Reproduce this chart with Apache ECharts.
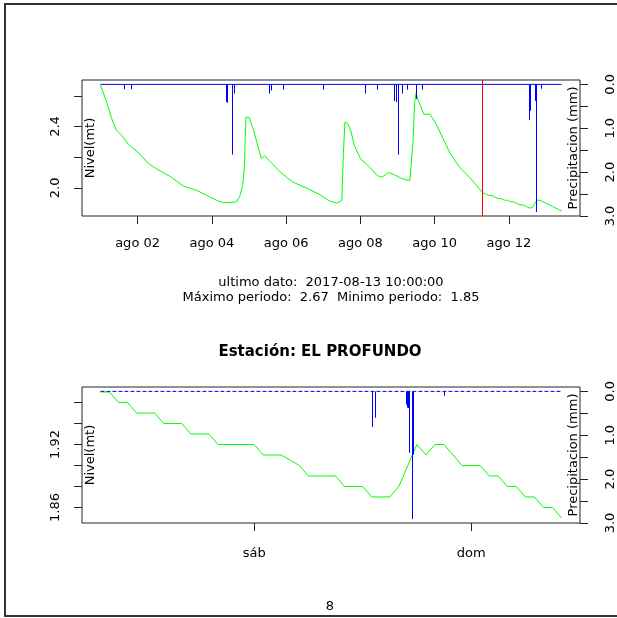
<!DOCTYPE html>
<html><head><meta charset="utf-8">
<script src="https://cdn.jsdelivr.net/npm/echarts@6/dist/echarts.min.js"></script>
<style>html,body{margin:0;padding:0;background:#fff}#c{width:617px;height:618px}</style>
</head><body><div id="c"></div>
<script>
// ---- data (August 2017, times as 'MM-DD HH:mm') ----
const levelTimes = [
  '08-01 00:00','08-01 04:00','08-01 07:00','08-01 10:00','08-01 14:00','08-01 18:00',
  '08-02 01:00','08-02 07:00','08-02 12:00','08-02 21:00','08-03 06:00','08-03 14:00',
  '08-03 21:00','08-04 03:00','08-04 07:00','08-04 13:00','08-04 16:00','08-04 18:00',
  '08-04 20:00','08-04 21:00','08-04 22:00','08-05 00:00','08-05 03:00','08-05 05:00',
  '08-05 08:00','08-05 10:00','08-05 13:00','08-05 20:00','08-06 04:00','08-06 13:00',
  '08-06 22:00','08-07 04:00','08-07 09:00','08-07 12:00','08-07 13:00','08-07 14:00',
  '08-07 16:00','08-07 18:00','08-07 20:00','08-08 00:00','08-08 06:00','08-08 11:00',
  '08-08 14:00','08-08 18:00','08-08 22:00','08-09 02:00','08-09 06:00','08-09 08:00',
  '08-09 10:00','08-09 11:00','08-09 12:00','08-09 13:00','08-09 17:00','08-09 21:00',
  '08-10 01:00','08-10 05:00','08-10 10:00','08-10 16:00','08-10 22:00',
  '08-11 07:00','08-11 08:00','08-11 09:00','08-11 10:00','08-11 11:00','08-11 12:00',
  '08-11 13:00','08-11 14:00','08-11 15:00','08-11 16:00','08-11 17:00','08-11 18:00',
  '08-11 19:00','08-11 20:00','08-11 21:00','08-11 22:00','08-11 23:00',
  '08-12 00:00','08-12 01:00','08-12 02:00','08-12 03:00','08-12 04:00','08-12 05:00',
  '08-12 06:00','08-12 07:00','08-12 08:00','08-12 09:00','08-12 10:00','08-12 11:00',
  '08-12 12:00','08-12 13:00','08-12 14:00','08-12 15:00','08-12 16:00','08-12 17:00',
  '08-12 18:00','08-12 19:00','08-12 20:00','08-12 21:00','08-12 22:00','08-12 23:00',
  '08-13 00:00','08-13 01:00','08-13 02:00','08-13 03:00','08-13 04:00','08-13 05:00',
  '08-13 06:00','08-13 07:00','08-13 08:00','08-13 09:00','08-13 10:00'
];
const levelValues = [
  2.67,2.56,2.46,2.38,2.34,2.285,
  2.225,2.16,2.125,2.075,2.01,1.985,
  1.95,1.92,1.905,1.905,1.91,1.945,
  2.02,2.14,2.46,2.46,2.375,2.30,
  2.19,2.21,2.18,2.105,2.04,2.00,
  1.955,1.915,1.90,1.92,2.22,2.43,
  2.415,2.365,2.28,2.19,2.135,2.08,
  2.07,2.10,2.085,2.065,2.05,2.05,
  2.30,2.55,2.62,2.58,2.48,2.48,
  2.415,2.33,2.225,2.135,2.075,
  1.97,1.97,1.96,1.96,1.95,1.95,
  1.95,1.94,1.94,1.94,1.93,1.93,
  1.93,1.92,1.92,1.92,1.92,
  1.92,1.91,1.91,1.91,1.905,1.90,
  1.89,1.89,1.89,1.89,1.88,1.88,
  1.88,1.87,1.87,1.87,1.88,1.90,
  1.92,1.91,1.92,1.92,1.91,1.90,
  1.90,1.90,1.89,1.89,1.88,1.88,
  1.87,1.87,1.86,1.86,1.85
];
const precipTimes = [
  '08-01 15:00','08-01 20:00','08-04 09:00','08-04 10:00','08-04 13:00','08-04 14:00',
  '08-05 13:00','08-05 14:00','08-05 22:00','08-07 00:00','08-08 03:00','08-08 11:00',
  '08-08 22:00','08-08 23:00','08-09 00:00','08-09 03:00','08-09 06:00','08-09 12:00',
  '08-09 16:00','08-12 13:00','08-12 13:20','08-12 16:48','08-12 16:55','08-12 17:02',
  '08-12 17:10','08-12 17:26','08-12 17:36','08-12 21:00'
];
const precipValues = [
  0.11,0.11,0.40,0.42,1.60,0.21,
  0.21,0.14,0.12,0.12,0.21,0.12,
  0.38,0.40,1.60,0.21,0.12,0.33,
  0.12,0.81,0.60,0.30,0.37,0.38,
  1.40,2.91,1.44,0.10
];
const topTickDays = [2,4,6,8,10,12];
const topTickLabels = ['ago 02','ago 04','ago 06','ago 08','ago 10','ago 12'];
const bottomTickDays = [12,13];
const bottomTickLabels = ['sáb','dom'];
const topLevelTicks = [2.0,2.2,2.4,2.6];
const topLevelLabels = [2.0,2.4];
const bottomLevelTicks = [1.86,1.88,1.90,1.92,1.94,1.96];
const bottomLevelLabels = [1.86,1.92];
const precipTicks = [0,0.5,1,1.5,2,2.5,3];
const precipLabels = [0,1,2,3];
const cutoffTime = '08-11 07:00';
const lastDateText = '2017-08-13 10:00:00';
const stationName = 'EL PROFUNDO';
const pageNumber = '8';

// ---- helpers ----
const FONT = 'DejaVu Sans';
function toDay(s){
  const [md, hm] = s.split(' ');
  const d = +md.split('-')[1];
  const [h, m] = hm.split(':').map(Number);
  return d + h/24 + m/1440;
}
function rExt(arr){
  const mn = Math.min(...arr), mx = Math.max(...arr), e = 0.04*(mx-mn);
  return [mn-e, mx+e];
}
const levelPairs = levelTimes.map((t,i)=>[toDay(t), levelValues[i]]);
const precipPairs = precipTimes.map((t,i)=>[toDay(t), precipValues[i]]);
const cutDay = toDay(cutoffTime);
const botLevel = levelPairs.filter(p=>p[0] >= cutDay-1e-9);
const botPrecip = precipPairs.filter(p=>p[0] >= cutDay-1e-9);
const firstDay = levelPairs[0][0], lastDay = levelPairs[levelPairs.length-1][0];
const topXR = rExt(levelPairs.map(p=>p[0]));
const botXR = rExt(botLevel.map(p=>p[0]));
const topYR = rExt(levelValues);
const botYR = rExt(botLevel.map(p=>p[1]));
const maxLevel = Math.max(...levelValues), minLevel = Math.min(...levelValues);
const PR = [-0.1, 3];

const tickStyle = {color:'#222', width:1};
const lblStyle = {color:'#000', fontFamily:FONT, fontSize:13};
function labelFrom(ticks, labels){
  return v => { const i = ticks.findIndex(t=>Math.abs(t-v)<1e-6); return i<0 ? '' : labels[i]; };
}
function xAx(gi, r, ticks, labels, margin){
  return {type:'value', gridIndex:gi, min:r[0], max:r[1], position:'bottom',
    axisLine:{show:false, onZero:false}, splitLine:{show:false},
    axisTick:{show:true, length:8, customValues:ticks, lineStyle:tickStyle},
    axisLabel:Object.assign({customValues:ticks, margin, formatter:labelFrom(ticks, labels)}, lblStyle)};
}
function yLeft(gi, r, ticks, labels, dec){
  return {type:'value', gridIndex:gi, position:'left', min:r[0], max:r[1],
    name:'Nivel(mt)', nameLocation:'middle', nameGap:-15, nameRotate:90, nameMoveOverlap:false,
    nameTextStyle:{color:'#000', fontFamily:FONT, fontSize:13},
    axisLine:{show:false, onZero:false}, splitLine:{show:false},
    axisTick:{show:true, length:8, customValues:ticks, lineStyle:tickStyle},
    axisLabel:Object.assign({customValues:labels, rotate:90, margin:20, formatter:v=>v.toFixed(dec)}, lblStyle)};
}
function yRight(gi){
  return {type:'value', gridIndex:gi, position:'right', min:PR[0], max:PR[1], inverse:true,
    name:'Precipitacion (mm)', nameLocation:'middle', nameGap:-13, nameRotate:90, nameMoveOverlap:false,
    nameTextStyle:{color:'#000', fontFamily:FONT, fontSize:13},
    axisLine:{show:false, onZero:false}, splitLine:{show:false},
    axisTick:{show:true, length:8, customValues:precipTicks, lineStyle:tickStyle},
    axisLabel:Object.assign({customValues:precipLabels, rotate:90, margin:24, formatter:v=>v.toFixed(1)}, lblStyle)};
}
// vertical "h"-type lines for precipitation, positioned through the axes
function precipItem(params, api){
  const p0 = api.coord([api.value(0), 0]);
  const p1 = api.coord([api.value(0), api.value(1)]);
  const x = Math.round(p0[0]) + 0.5;
  return {type:'line', shape:{x1:x, y1:p0[1], x2:x, y2:p1[1]},
    style:{stroke:'#0000ff', lineWidth:1}, silent:true};
}

const chart = echarts.init(document.getElementById('c'), null, {renderer:'canvas'});
chart.setOption({
  animation:false,
  backgroundColor:'#fff',
  grid:[
    {left:82, top:80, width:498, height:136, show:true, borderColor:'#222', borderWidth:1, backgroundColor:'transparent', containLabel:false, outerBoundsMode:'none'},
    {left:82, top:387, width:498, height:136, show:true, borderColor:'#222', borderWidth:1, backgroundColor:'transparent', containLabel:false, outerBoundsMode:'none'}
  ],
  xAxis:[
    xAx(0, topXR, topTickDays, topTickLabels, 21),
    xAx(1, botXR, bottomTickDays, bottomTickLabels, 24)
  ],
  yAxis:[
    yLeft(0, topYR, topLevelTicks, topLevelLabels, 1),
    yRight(0),
    yLeft(1, botYR, bottomLevelTicks, bottomLevelLabels, 2),
    yRight(1)
  ],
  series:[
    {type:'line', xAxisIndex:0, yAxisIndex:0, data:levelPairs, symbol:'none', showSymbol:false,
     lineStyle:{color:'#00ff00', width:1}, silent:true, z:2},
    {type:'custom', xAxisIndex:0, yAxisIndex:1, data:precipPairs, renderItem:precipItem, silent:true, z:3},
    {type:'line', xAxisIndex:0, yAxisIndex:1, data:[[firstDay,0],[lastDay,0]], symbol:'none', showSymbol:false,
     lineStyle:{color:'#0000ff', width:1}, silent:true, z:4,
     markLine:{silent:true, symbol:['none','none'], label:{show:false},
       lineStyle:{color:'#ff0000', width:1, type:'solid'}, data:[{xAxis:cutDay}]}},
    {type:'line', xAxisIndex:1, yAxisIndex:2, data:botLevel, symbol:'none', showSymbol:false,
     lineStyle:{color:'#00ff00', width:1}, silent:true, z:2},
    {type:'custom', xAxisIndex:1, yAxisIndex:3, data:botPrecip, renderItem:precipItem, silent:true, z:3},
    {type:'line', xAxisIndex:1, yAxisIndex:3, data:[[cutDay,0],[lastDay,0]], symbol:'none', showSymbol:false,
     lineStyle:{color:'#0000ff', width:1, type:[4,2]}, silent:true, z:4}
  ],
  graphic:[
    {type:'rect', shape:{x:5, y:4, width:700, height:612}, style:{fill:'none', stroke:'#333', lineWidth:2}, silent:true},
    {type:'text', x:331, y:283, style:{text:'ultimo dato:  ' + lastDateText, align:'center', verticalAlign:'middle', fontFamily:FONT, fontSize:13, fill:'#000'}},
    {type:'text', x:331, y:298, style:{text:'Máximo periodo:  ' + maxLevel.toFixed(2) + '  Minimo periodo:  ' + minLevel.toFixed(2), align:'center', verticalAlign:'middle', fontFamily:FONT, fontSize:13, fill:'#000'}},
    {type:'text', x:320, y:352, style:{text:'Estación: ' + stationName, align:'center', verticalAlign:'middle', fontFamily:FONT, fontSize:15, fontWeight:'bold', fill:'#000'}},
    {type:'text', x:330, y:607, style:{text:pageNumber, align:'center', verticalAlign:'middle', fontFamily:FONT, fontSize:13, fill:'#000'}}
  ]
});
</script>
</body></html>
